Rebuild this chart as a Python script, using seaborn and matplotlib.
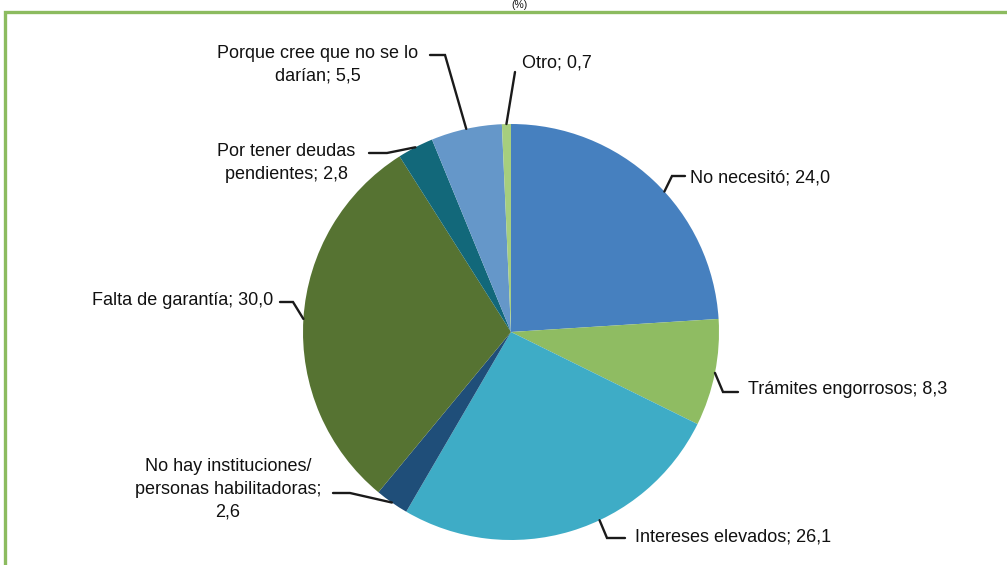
import matplotlib
matplotlib.use("Agg")
import matplotlib.pyplot as plt
import seaborn as sns
import numpy as np

categories = ['No necesitó', 'Trámites engorrosos', 'Intereses elevados',
              'No hay instituciones/\npersonas habilitadoras;\n', 'Falta de garantía',
              'Por tener deudas\npendientes', 'Porque cree que no se lo\ndarían', 'Otro']
values = [24.0, 8.3, 26.1, 2.6, 30.0, 2.8, 5.5, 0.7]
colors = ['#4680BF', '#8FBC62', '#3EACC6', '#1F4E79', '#567332', '#12687A', '#6597C9', '#A6CE7E']

sns.set_theme(style="white")
plt.rcParams['font.family'] = ['Liberation Sans Narrow', 'Liberation Sans', 'DejaVu Sans']

W, H = 1007, 565
CX, CY, R = 511, 332, 208


def px(x, y):
    # pixel position -> data units (pie radius = 1)
    return (x - CX) / R, (CY - y) / R


fig = plt.figure(figsize=(W / 100, H / 100), dpi=100)
ax = fig.add_axes([0, 0, 1, 1])

wedges, _ = ax.pie(values, colors=colors, startangle=90, counterclock=False,
                   radius=1, wedgeprops=dict(linewidth=0))

# label layout: text position, alignment, leader elbow / end, anchor fraction
text_pos = [(690, 178), (748, 390), (635, 537), (228, 489), (273, 300),
            (286, 163), (318, 65), (522, 63)]
text_ha = ['left', 'left', 'left', 'center', 'right', 'center', 'center', 'left']
elbow = [(672, 176), (723, 392), (607, 538), (350, 493), (293, 302),
         (387, 153), (445, 55), (515, 72)]
tail = [(685, 176), (738, 392), (625, 538), (333, 493), (280, 302),
        (369, 153), (430, 55), (515, 72)]
anchor_frac = [0.45, 0.5, 0.59, 0.5, 0.5, 0.5, 0.5, 0.5]

for i, w in enumerate(wedges):
    ang = np.deg2rad(w.theta1 + anchor_frac[i] * (w.theta2 - w.theta1))
    ex, ey = np.cos(ang), np.sin(ang)
    bx, by = px(*elbow[i])
    tx, ty = px(*tail[i])
    ax.plot([ex, bx, tx], [ey, by, ty], color='#1a1a1a', lw=1.7,
            solid_joinstyle='miter', zorder=3)
    val = f'{values[i]:.1f}'.replace('.', ',')
    name = categories[i]
    label = f'{name}{val}' if name.endswith('\n') else f'{name}; {val}'
    lx, ly = px(*text_pos[i])
    ax.text(lx, ly, label, ha=text_ha[i], va='center', fontsize=13,
            color='#111111', multialignment='center', linespacing=1.45)

ax.set_xlim(-CX / R, (W - CX) / R)
ax.set_ylim((CY - H) / R, CY / R)
ax.set_aspect('auto')
ax.axis('off')

# green frame around the chart (cut at right and bottom)
fig.patches.append(plt.Rectangle((5 / W, -0.1), 1.2, 1 - 12 / H + 0.1,
                                 transform=fig.transFigure, fill=False,
                                 edgecolor='#8CBB5F', linewidth=2.4))
fig.text(520 / W, 1 - 5 / H, '(%)', ha='center', va='center', fontsize=7.5,
         color='#111111')

fig.savefig('out.png', dpi=100)
